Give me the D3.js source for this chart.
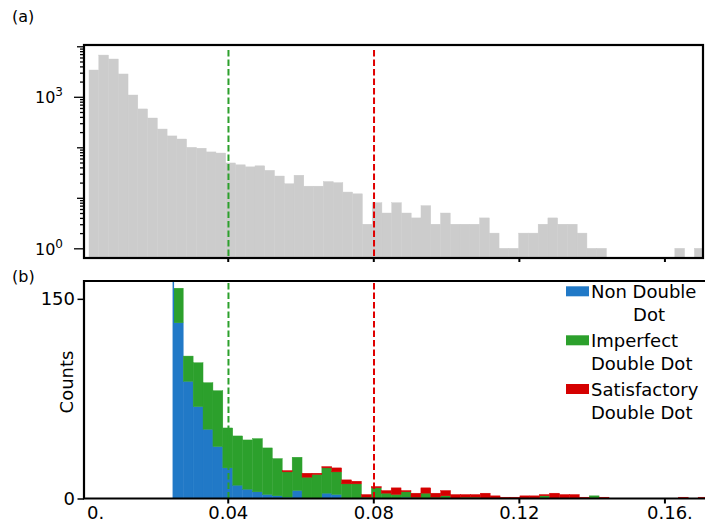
<!DOCTYPE html>
<html>
<head>
<meta charset="utf-8">
<script src="https://cdn.jsdelivr.net/npm/d3@7"></script>
<style>
  body { margin: 0; background: #fff; }
  svg { font-family: "DejaVu Sans", sans-serif; }
</style>
</head>
<body>
<svg width="705" height="524"></svg>
<script>
// Histogramme du haut (échelle log) : bins réguliers
const topBinStart = 0.001877;
const topBinWidth = 0.002683;
const topCounts = [3390, 6700, 5600, 2830, 1085, 575, 380, 230, 168, 146,
                   100, 96, 81, 77, 49, 45, 41, 43, 35, 27,
                   19, 28, 17, 17, 21, 20, 13, 12, 3, 8,
                   5, 8, 5, 4, 7, 3, 5, 3, 3, 3,
                   4, 2, 1, 1, 2, 2, 3, 4, 3, 3,
                   2, 1, 1, 0, 0, 0, 0, 0, 0, 0,
                   1, 0, 1];

// Histogramme du bas (empilé)
const botBinStart = 0.025047;
const botBinWidth = 0.002721;
const nonDouble = [132, 88, 69, 52, 39, 23, 10, 7, 5, 3,
                   2, 1, 6, 0, 0, 4, 3, 0, 0, 0,
                   0, 0, 0, 1, 0, 0, 0, 0, 0, 0,
                   0, 0, 0, 0, 0, 0, 0, 0, 0, 0,
                   0, 0, 0, 0, 0, 0, 0, 0, 0, 0,
                   0, 0, 0, 0];
const imperfect = [26, 19, 33, 35, 42, 30, 37, 37, 40, 35,
                   28, 19, 25, 16, 18, 19, 17, 11, 11, 1,
                   8, 4, 3, 4, 1, 4, 1, 2, 0, 1,
                   1, 0, 0, 0, 0, 0, 0, 2, 0, 0,
                   0, 0, 2, 0, 0, 0, 0, 0, 0, 0,
                   0, 0, 0, 0];
const satisfactory = [0, 0, 0, 0, 0, 0, 0, 0, 0, 0,
                      0, 1, 0, 3, 1, 1, 3, 3, 2, 2,
                      1, 2, 5, 1, 3, 4, 3, 4, 3, 2,
                      2, 4, 2, 1, 1, 2, 2, 1, 4, 3,
                      3, 1, 0, 1, 0, 0, 0, 0, 0, 0,
                      0, 1, 0, 1];

const seriesKeys = ["nonDouble", "imperfect", "satisfactory"];
const seriesLabels = [["Non Double", "Dot"], ["Imperfect", "Double Dot"], ["Satisfactory", "Double Dot"]];
const seriesColors = ["#2179c7", "#2ca02c", "#d50000"];

const thresholds = [0.0402, 0.0802];
const thresholdColors = ["#2ca02c", "#e00000"];

const xTickValues = [0, 0.04, 0.08, 0.12, 0.16];
const xTickLabels = ["0.", "0.04", "0.08", "0.12", "0.16."];
const topLabelTicks = [1, 1000];
const topLabelExp = ["0", "3"];
const botYTicks = [0, 150];

// Mise en page
const svg = d3.select("svg");
const left = 84, right = 703;
const topPanel = { top: 45, bottom: 258 };
const botPanel = { top: 281, bottom: 498.5 };

const x = d3.scaleLinear().domain([0.0005, 0.1706]).range([left, right]);
const yTop = d3.scaleLog().domain([0.643, 10600]).range([topPanel.bottom, topPanel.top]);
const yBot = d3.scaleLinear().domain([0, 163.4]).range([botPanel.bottom, botPanel.top]);

const defs = svg.append("defs");
defs.append("clipPath").attr("id", "clipTop")
  .append("rect").attr("x", left).attr("y", topPanel.top)
  .attr("width", right - left).attr("height", topPanel.bottom - topPanel.top);
defs.append("clipPath").attr("id", "clipBot")
  .append("rect").attr("x", left).attr("y", botPanel.top)
  .attr("width", 705 - left).attr("height", botPanel.bottom - botPanel.top);

// ---- Panneau (a)
const gTop = svg.append("g").attr("clip-path", "url(#clipTop)");
gTop.selectAll("rect.bar")
  .data(topCounts.map((c, i) => ({ i, c })).filter(d => d.c > 0))
  .join("rect")
  .attr("class", "bar")
  .attr("x", d => x(topBinStart + d.i * topBinWidth))
  .attr("width", d => x(topBinStart + (d.i + 1) * topBinWidth) - x(topBinStart + d.i * topBinWidth))
  .attr("y", d => yTop(d.c))
  .attr("height", d => topPanel.bottom - yTop(d.c))
  .attr("fill", "#cccccc")
  .attr("stroke", "#cccccc")
  .attr("stroke-width", 0.4);

thresholds.forEach((t, k) => {
  gTop.append("line")
    .attr("x1", x(t)).attr("x2", x(t))
    .attr("y1", topPanel.top + 5).attr("y2", topPanel.bottom)
    .attr("stroke", thresholdColors[k]).attr("stroke-width", 2)
    .attr("stroke-dasharray", "6.5,3");
});

// axe y log
const topAxis = svg.append("g")
  .attr("transform", `translate(${left},0)`)
  .call(d3.axisLeft(yTop).tickValues(yTop.ticks().filter(v => v >= 1)).tickFormat(""));
topAxis.select(".domain").remove();
topAxis.selectAll(".tick line")
  .attr("stroke-width", 1.3)
  .attr("x2", d => {
    const lg = Math.log10(d);
    if (topLabelTicks.includes(d)) return -10;
    return Math.abs(lg - Math.round(lg)) < 1e-9 ? -7 : -4;
  });

topLabelTicks.forEach((v, k) => {
  const t = svg.append("text")
    .attr("x", 63).attr("y", yTop(v) + 6.5)
    .attr("text-anchor", "end")
    .attr("font-size", 16)
    .attr("fill", "#000");
  t.append("tspan").text("10");
  t.append("tspan").attr("font-size", 12).attr("dy", -7).text(topLabelExp[k]);
});

const topX = svg.append("g")
  .attr("transform", `translate(0,${topPanel.bottom})`)
  .call(d3.axisBottom(x).tickValues(xTickValues.slice(1)).tickSize(4).tickFormat(""));
topX.select(".domain").remove();
topX.selectAll(".tick line").attr("stroke-width", 2);

svg.append("rect")
  .attr("x", left).attr("y", topPanel.top)
  .attr("width", right - left).attr("height", topPanel.bottom - topPanel.top)
  .attr("fill", "none").attr("stroke", "#000").attr("stroke-width", 2.2);

svg.append("text").attr("x", 12).attr("y", 22).attr("font-size", 16).text("(a)");

// ---- Panneau (b)
const rows = nonDouble.map((_, i) => ({
  i,
  nonDouble: nonDouble[i],
  imperfect: imperfect[i],
  satisfactory: satisfactory[i]
}));
const stacked = d3.stack().keys(seriesKeys)(rows);

const gBot = svg.append("g").attr("clip-path", "url(#clipBot)");
gBot.selectAll("g.layer")
  .data(stacked)
  .join("g")
  .attr("class", "layer")
  .attr("fill", (d, k) => seriesColors[k])
  .attr("stroke", (d, k) => seriesColors[k])
  .attr("stroke-width", 0.4)
  .selectAll("rect")
  .data(d => d.filter(s => s[1] - s[0] > 0))
  .join("rect")
  .attr("x", s => x(botBinStart + s.data.i * botBinWidth))
  .attr("width", s => x(botBinStart + (s.data.i + 1) * botBinWidth) - x(botBinStart + s.data.i * botBinWidth))
  .attr("y", s => yBot(s[1]))
  .attr("height", s => yBot(s[0]) - yBot(s[1]));

// bord gauche du premier bin (trait bleu)
gBot.append("line")
  .attr("x1", x(botBinStart)).attr("x2", x(botBinStart))
  .attr("y1", botPanel.top).attr("y2", botPanel.bottom)
  .attr("stroke", seriesColors[0]).attr("stroke-width", 1.5);

thresholds.forEach((t, k) => {
  gBot.append("line")
    .attr("x1", x(t)).attr("x2", x(t))
    .attr("y1", botPanel.top + 2).attr("y2", botPanel.bottom)
    .attr("stroke", thresholdColors[k]).attr("stroke-width", 2)
    .attr("stroke-dasharray", "6.5,3");
});

const botY = svg.append("g")
  .attr("transform", `translate(${left},0)`)
  .call(d3.axisLeft(yBot).tickValues(botYTicks).tickSize(6.5).tickPadding(2.5));
botY.select(".domain").remove();
botY.selectAll(".tick line").attr("stroke-width", 1.5);
botY.selectAll("text").attr("font-size", 18).attr("font-family", "DejaVu Sans");

const botX = svg.append("g")
  .attr("transform", `translate(0,${botPanel.bottom})`)
  .call(d3.axisBottom(x).tickValues(xTickValues).tickSize(5)
    .tickFormat((d, i) => xTickLabels[i]));
botX.select(".domain").remove();
botX.selectAll(".tick line").attr("stroke-width", 2)
  .attr("opacity", d => d === 0 ? 0 : 1);
botX.selectAll("text")
  .attr("font-size", 18).attr("font-family", "DejaVu Sans")
  .attr("y", 20.5).attr("dy", 0)
  .attr("dx", (d, i) => i === 0 ? 13 : (i === xTickLabels.length - 1 ? 5 : 0));

// cadre du bas : gauche, haut, bas
svg.append("path")
  .attr("d", `M705,${botPanel.top}H${left}V${botPanel.bottom}H705`)
  .attr("fill", "none").attr("stroke", "#000").attr("stroke-width", 2.2);

svg.append("text")
  .attr("transform", `translate(72.5,382) rotate(-90)`)
  .attr("text-anchor", "middle").attr("font-size", 18)
  .text("Counts");

svg.append("text").attr("x", 12).attr("y", 282).attr("font-size", 16).text("(b)");

// Légende
const legendBase = [298.3, 347.3, 396];
const legend = svg.append("g").attr("font-size", 18);
seriesLabels.forEach((lines, k) => {
  legend.append("rect")
    .attr("x", 566).attr("y", legendBase[k] - 12)
    .attr("width", 23).attr("height", 10)
    .attr("fill", seriesColors[k]);
  lines.forEach((line, j) => {
    const centered = k === 0 && j === 1;
    legend.append("text")
      .attr("x", centered ? 649 : 591)
      .attr("y", legendBase[k] + j * 22.8)
      .attr("text-anchor", centered ? "middle" : "start")
      .text(line);
  });
});
</script>
</body>
</html>
